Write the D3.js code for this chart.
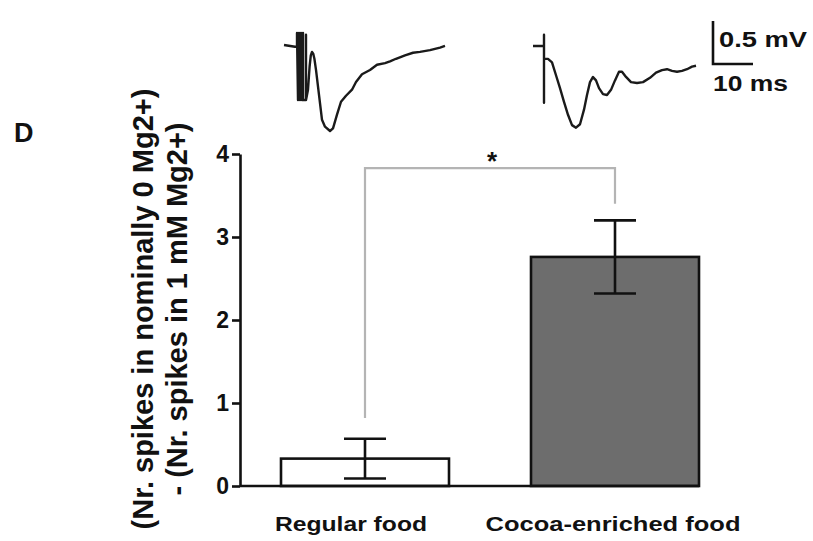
<!DOCTYPE html>
<html>
<head>
<meta charset="utf-8">
<script src="https://cdn.jsdelivr.net/npm/d3@7"></script>
<style>
  html, body { margin: 0; padding: 0; background: #fff; }
  svg { display: block; font-family: "Liberation Sans", Arial, Helvetica, sans-serif; font-weight: bold; }
</style>
</head>
<body>
<svg id="chart" width="813" height="541"></svg>
<script>
// ---------------- data ----------------
const categories = ["Regular food", "Cocoa-enriched food"];
const means = [0.33, 2.76];
const sems = [0.24, 0.44];
const yTicks = [0, 1, 2, 3, 4];
const yTitleLines = ["(Nr. spikes in nominally 0 Mg2+)", "- (Nr. spikes in 1 mM Mg2+)"];
const panelLabel = "D";
const sigLabel = "*";
// bracket: [left foot, top, right foot] in y units
const bracketLevels = [0.82, 3.83, 3.40];

// example traces: [time (ms), voltage (mV)]
const traceRegular = [
  [0, 0], [2.75, -0.02], [3.25, -0.02], [3.25, 0.14], [3.5, -0.64], [3.75, 0.14], [4, -0.64],
  [4.25, 0.14], [4.5, -0.64], [4.75, 0.14], [4.75, -0.64], [5.5, -0.64], [5.5, 0.12], [5.5, -0.64],
  [6, -0.52], [6.4, -0.25], [6.7, -0.12], [7, -0.08], [7.3, -0.1], [7.6, -0.16], [8, -0.29],
  [8.75, -0.58], [9.5, -0.87], [10.25, -0.95], [11.5, -1.0], [12.25, -0.97], [13.25, -0.81],
  [14.25, -0.66], [15.5, -0.59], [17, -0.52], [18, -0.43], [19.5, -0.34], [21.5, -0.29],
  [23.25, -0.23], [25.25, -0.21], [26.5, -0.19], [28, -0.16], [30.25, -0.12], [32.25, -0.09],
  [34, -0.08], [36.5, -0.06], [39, -0.03], [40.25, -0.01]
];
const traceCocoa = [
  [0, 0], [2.5, 0], [2.75, 0], [2.75, 0.13], [2.75, -0.66], [2.75, -0.15], [3.75, -0.15],
  [4.75, -0.19], [5.75, -0.34], [6.75, -0.49], [7.75, -0.65], [8.75, -0.80], [9.75, -0.92],
  [10.75, -0.95], [11.75, -0.91], [12.75, -0.74], [13.5, -0.57], [14.25, -0.42], [15, -0.36],
  [15.75, -0.40], [16.5, -0.49], [17.5, -0.56], [18.5, -0.57], [19.5, -0.51], [20.5, -0.40],
  [21.5, -0.30], [22.25, -0.30], [23.25, -0.36], [24.5, -0.42], [26, -0.43], [27.5, -0.42],
  [29.25, -0.37], [30.75, -0.31], [32.25, -0.28], [33.5, -0.27], [34.75, -0.29], [36, -0.30],
  [37.25, -0.29], [38.5, -0.27], [39.75, -0.24], [40.75, -0.23]
];
const scaleBarValues = [10, 0.5]; // ms, mV
const scaleBarLabels = ["10 ms", "0.5 mV"];

// ---------------- drawing ----------------
const svg = d3.select("#chart");
svg.append("rect").attr("width", 813).attr("height", 541).attr("fill", "#fff");

const y = d3.scaleLinear().domain([0, 4]).range([486, 154]);
const x = d3.scaleBand().domain(categories).range([240, 740]).paddingInner(0.328).paddingOuter(0.164);
const bw = x.bandwidth();
const xc = c => x(c) + bw / 2;

// bars
svg.selectAll("rect.bar").data(categories).join("rect")
  .attr("class", "bar")
  .attr("x", d => x(d))
  .attr("y", (d, i) => y(means[i]))
  .attr("width", bw)
  .attr("height", (d, i) => y(0) - y(means[i]))
  .attr("fill", (d, i) => i === 0 ? "#ffffff" : "#6d6d6d")
  .attr("stroke", "#111")
  .attr("stroke-width", 2.6);

// significance bracket
const bracket = d3.path();
bracket.moveTo(xc(categories[0]), y(bracketLevels[0]));
bracket.lineTo(xc(categories[0]), y(bracketLevels[1]));
bracket.lineTo(xc(categories[1]), y(bracketLevels[1]));
bracket.lineTo(xc(categories[1]), y(bracketLevels[2]));
svg.append("path").attr("d", bracket.toString())
  .attr("fill", "none").attr("stroke", "#b4b4b4").attr("stroke-width", 2.2);
svg.append("text")
  .attr("x", (xc(categories[0]) + xc(categories[1])) / 2 + 2)
  .attr("y", y(bracketLevels[1]) + 2)
  .attr("text-anchor", "middle")
  .attr("font-size", 26).attr("fill", "#111")
  .text(sigLabel);

// error bars
const capHalf = bw * 0.125;
categories.forEach((c, i) => {
  const g = svg.append("g").attr("stroke", "#111").attr("stroke-width", 2.6);
  const cx = xc(c);
  g.append("line").attr("x1", cx).attr("x2", cx).attr("y1", y(means[i] - sems[i])).attr("y2", y(means[i] + sems[i]));
  g.append("line").attr("x1", cx - capHalf).attr("x2", cx + capHalf).attr("y1", y(means[i] + sems[i])).attr("y2", y(means[i] + sems[i]));
  g.append("line").attr("x1", cx - capHalf).attr("x2", cx + capHalf).attr("y1", y(means[i] - sems[i])).attr("y2", y(means[i] - sems[i]));
});

// y axis
const yAxis = svg.append("g").attr("transform", "translate(240,0)")
  .call(d3.axisLeft(y).tickValues(yTicks).tickFormat(d3.format("d")).tickSize(8).tickSizeOuter(0).tickPadding(3));
yAxis.attr("font-size", null).attr("font-family", null);
yAxis.selectAll("path, line").attr("stroke", "#111").attr("stroke-width", 2.6);
yAxis.selectAll("text").style("font-size", "23px").style("font-family", "'Liberation Sans', Arial, sans-serif")
  .style("font-weight", "bold").attr("fill", "#111");

// x axis
const xAxis = svg.append("g").attr("transform", "translate(0,486)")
  .call(d3.axisBottom(x).tickSize(0).tickPadding(30));
xAxis.attr("font-size", null).attr("font-family", null);
xAxis.select(".domain").remove();
xAxis.append("line").attr("x1", 240).attr("x2", x(categories[1]) + bw)
  .attr("stroke", "#111").attr("stroke-width", 2.6);
const labelWidths = [152, 255];
const labelShift = [-14, -2];
xAxis.selectAll(".tick text")
  .style("font-size", "21px").style("font-family", "'Liberation Sans', Arial, sans-serif")
  .style("font-weight", "bold").attr("fill", "#111")
  .attr("dx", (d, i) => labelShift[i])
  .attr("textLength", (d, i) => labelWidths[i])
  .attr("lengthAdjust", "spacingAndGlyphs");

// y title
const titleX = [153, 187];
const titleY = [309, 309];
yTitleLines.forEach((t, i) => {
  svg.append("text")
    .attr("transform", `translate(${titleX[i]},${titleY[i]}) rotate(-90)`)
    .attr("text-anchor", "middle")
    .attr("font-size", 29).attr("fill", "#111")
    .text(t);
});

// panel label
svg.append("text").attr("x", 14).attr("y", 142).attr("font-size", 27).attr("fill", "#111").text(panelLabel);

// traces
const pxPerMs = 4, pxPerMv = 86;
function traceScales(x0, y0) {
  return {
    t: d3.scaleLinear().domain([0, 1]).range([x0, x0 + pxPerMs]),
    v: d3.scaleLinear().domain([0, 1]).range([y0, y0 - pxPerMv])
  };
}
function drawTrace(data, x0, y0) {
  const s = traceScales(x0, y0);
  const line = d3.line().x(d => s.t(d[0])).y(d => s.v(d[1])).curve(d3.curveLinear);
  svg.append("path").attr("d", line(data)).attr("fill", "none")
    .attr("stroke", "#1a1a1a").attr("stroke-width", 2.4).attr("stroke-linejoin", "round");
}
drawTrace(traceRegular, 284, 45);
drawTrace(traceCocoa, 533, 46);

// scale bar
const sb = traceScales(713, 64);
const sbPath = d3.path();
sbPath.moveTo(sb.t(0), sb.v(scaleBarValues[1]));
sbPath.lineTo(sb.t(0), sb.v(0));
sbPath.lineTo(sb.t(scaleBarValues[0]), sb.v(0));
svg.append("path").attr("d", sbPath.toString()).attr("fill", "none")
  .attr("stroke", "#111").attr("stroke-width", 2.6);
svg.append("text").attr("x", 713).attr("y", 91).attr("font-size", 22).attr("fill", "#111")
  .attr("textLength", 75).attr("lengthAdjust", "spacingAndGlyphs").text(scaleBarLabels[0]);
svg.append("text").attr("x", 719).attr("y", 47).attr("font-size", 22).attr("fill", "#111")
  .attr("textLength", 88).attr("lengthAdjust", "spacingAndGlyphs").text(scaleBarLabels[1]);
</script>
</body>
</html>
